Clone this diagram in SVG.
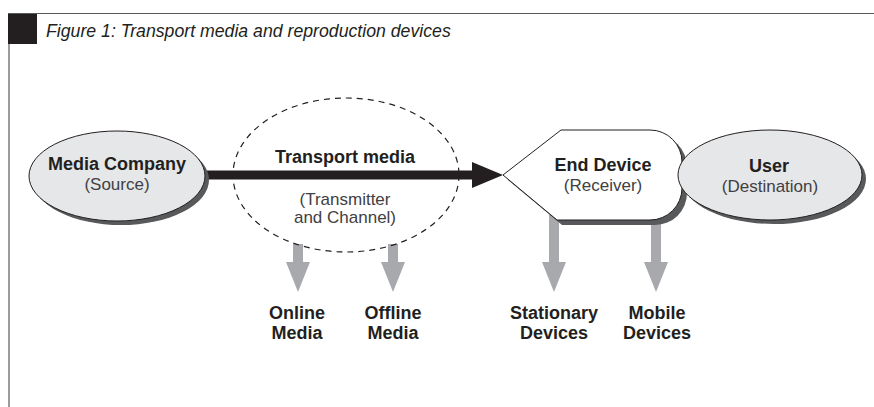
<svg xmlns="http://www.w3.org/2000/svg" width="874" height="407" viewBox="0 0 874 407">
<style>
.b{font-family:"Liberation Sans",Arial,sans-serif;font-weight:bold;font-size:18px;fill:#231f20;text-anchor:middle}
.r{font-family:"Liberation Sans",Arial,sans-serif;font-size:17px;fill:#414042;text-anchor:middle}
.ell{fill:#e6e7e8;stroke:#231f20;stroke-width:1}
.sh{fill:#58595b}
.gray{fill:#a7a9ac}
</style>
<g id="frame">
<line x1="8" y1="13.5" x2="874" y2="13.5" stroke="#58595b" stroke-width="1.2"/>
<line x1="9" y1="13" x2="9" y2="407" stroke="#58595b" stroke-width="1.2"/>
<rect x="8" y="14" width="29" height="30" fill="#231f20"/>
<text x="46" y="37" font-family="'Liberation Sans',Arial,sans-serif" font-style="italic" font-size="17.7" fill="#231f20">Figure 1: Transport media and reproduction devices</text>
</g>
<g id="connectors">
<rect x="293" y="244" width="10" height="20" class="gray"/>
<polygon points="286,262 310,262 298,292" class="gray"/>
<rect x="388" y="244" width="10" height="20" class="gray"/>
<polygon points="381,262 405,262 393,292" class="gray"/>
<rect x="549" y="215" width="10" height="49" class="gray"/>
<polygon points="542,262 566,262 554,292" class="gray"/>
<rect x="651" y="215" width="10" height="49" class="gray"/>
<polygon points="644,262 668,262 656,292" class="gray"/>
<line x1="200" y1="175" x2="474" y2="175" stroke="#231f20" stroke-width="9"/>
<polygon points="472,162 503,175 472,188" fill="#231f20"/>
</g>
<g id="transport">
<ellipse cx="346" cy="175" rx="113" ry="77" fill="none" stroke="#231f20" stroke-width="1.2" stroke-dasharray="6,5"/>
<text class="b" x="345" y="163">Transport media</text>
<text class="r" x="345" y="205">(Transmitter</text>
<text class="r" x="345" y="223">and Channel)</text>
</g>
<g id="source">
<ellipse cx="121" cy="180" rx="88" ry="45" class="sh"/>
<ellipse cx="117" cy="176" rx="88" ry="45" class="ell"/>
<text class="b" x="117" y="170">Media Company</text>
<text class="r" x="117" y="190">(Source)</text>
</g>
<g id="enddevice">
<path d="M508,180 L566,135 L655,135 A32,32 0 0 1 687,167 L687,193 A32,32 0 0 1 655,225 L562,225 Z" class="sh"/>
<path d="M503,175 L561,130 L650,130 A32,32 0 0 1 682,162 L682,188 A32,32 0 0 1 650,220 L557,220 Z" fill="#ffffff" stroke="#231f20" stroke-width="1"/>
<text class="b" x="603" y="171">End Device</text>
<text class="r" x="603" y="191">(Receiver)</text>
</g>
<g id="user">
<ellipse cx="774" cy="179" rx="92" ry="45" class="sh"/>
<ellipse cx="770" cy="175" rx="92" ry="45" class="ell"/>
<text class="b" x="769" y="172">User</text>
<text class="r" x="770" y="192">(Destination)</text>
</g>
<g id="online"><text class="b" x="297" y="319">Online</text><text class="b" x="297" y="339">Media</text></g>
<g id="offline"><text class="b" x="393" y="319">Offline</text><text class="b" x="393" y="339">Media</text></g>
<g id="stationary"><text class="b" x="554" y="319">Stationary</text><text class="b" x="554" y="339">Devices</text></g>
<g id="mobile"><text class="b" x="657" y="319">Mobile</text><text class="b" x="657" y="339">Devices</text></g>
</svg>
